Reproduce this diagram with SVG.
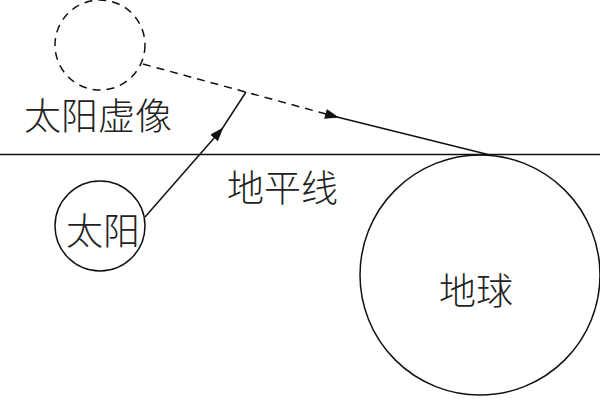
<svg xmlns="http://www.w3.org/2000/svg" width="600" height="400" viewBox="0 0 600 400">
<style>
.l{fill:none;stroke:#111;stroke-width:1.5}
.d{stroke-dasharray:8,6}
text{font-family:"Noto Sans CJK SC",sans-serif;fill:#222;font-weight:300;font-size:37px}
</style>
<defs><marker id="a" markerWidth="14" markerHeight="10" refX="12" refY="5" orient="auto" markerUnits="userSpaceOnUse"><path d="M0,0L14,5L0,10z" fill="#111"/></marker></defs>
<rect width="600" height="400" fill="#fff"/>
<g id="horizon"><line class="l" x1="0" y1="154.500" x2="600" y2="154.500"/></g>
<g id="virtual-sun"><circle class="l d" cx="100" cy="45" r="45"/><text x="24" y="130">太阳虚像</text></g>
<g id="sun"><circle class="l" cx="100" cy="226" r="45"/><text x="66" y="245">太阳</text></g>
<g id="earth"><circle class="l" cx="480" cy="275" r="120"/><text x="439" y="305">地球</text></g>
<text x="227" y="202">地平线</text>
<g id="connectors">
<line class="l" x1="145" y1="217" x2="222" y2="129" marker-end="url(#a)"/>
<line class="l" x1="220" y1="132" x2="246" y2="92" stroke-width="1.2"/>
<line class="l d" x1="143" y1="64" x2="337" y2="117" marker-end="url(#a)"/>
<line class="l" x1="333" y1="116" x2="490" y2="155"/>
</g>
</svg>
